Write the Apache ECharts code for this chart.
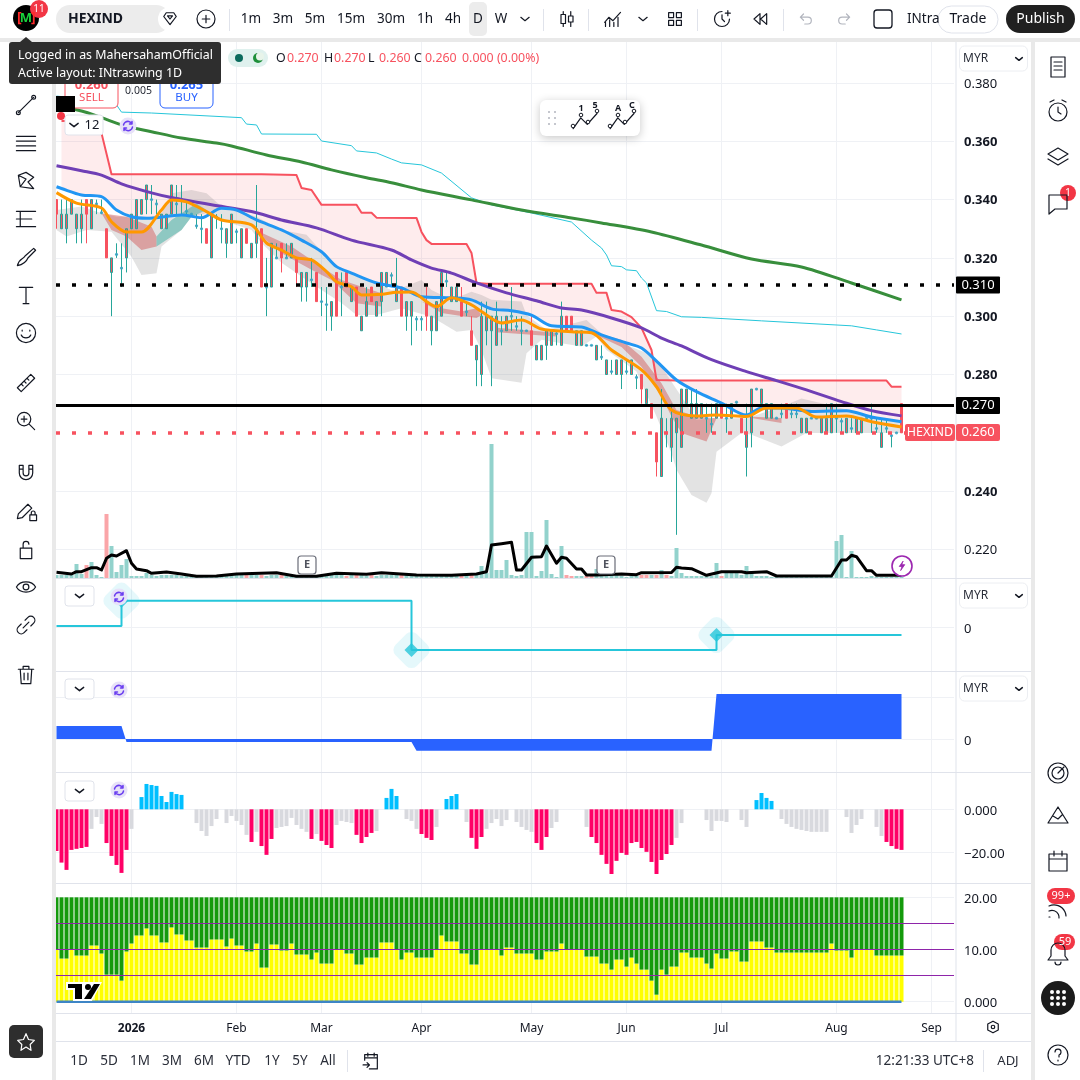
<!DOCTYPE html>
<html><head><meta charset="utf-8">
<style>html,body{margin:0;padding:0;background:#fff}#c{width:1080px;height:1080px}</style>
<script src="https://cdn.jsdelivr.net/npm/echarts@6/dist/echarts.min.js"></script>
</head><body><div id="c"></div>
<script>
const monthBars=[15,36,53,73,95,114,133,156,175];
const monthLabels=['2026','Feb','Mar','Apr','May','Jun','Jul','Aug','Sep'];
const priceTicks=[0.38,0.36,0.34,0.32,0.30,0.28,0.24,0.22];
const boldPriceTicks=[0.36,0.34,0.32,0.30,0.28,0.24];
const priceLevels={dottedBlack:0.3107,solidBlack:0.2695,dottedRed:0.26};
// open, close, low, high
const candles=[[.34,.335,.33,.34],[.33,.335,.33,.34],[.33,.335,.325,.34],[.335,.34,.335,.34],[.33,.335,.325,.335],[.33,.335,.325,.34],[.34,.335,.325,.34],[.33,.34,.33,.34],[.3385,.3385,.335,.34],[.3355,.3355,.335,.34],
[.33,.32,.32,.33],[.315,.32,.30,.32],[.3212,.3212,.32,.325],[.3165,.3165,.31,.325],[.32,.33,.315,.33],[.33,.335,.33,.335],[.33,.34,.33,.34],[.335,.34,.335,.34],[.34,.345,.335,.345],[.34,.34,.335,.345],
[.3385,.3385,.335,.34],[.33,.335,.33,.335],[.33,.335,.33,.335],[.335,.345,.335,.345],[.3385,.3385,.335,.345],[.34,.34,.335,.345],[.336,.336,.335,.34],[.335,.335,.335,.335],[.331,.331,.33,.335],[.33,.33,.325,.335],
[.33,.325,.325,.33],[.32,.335,.32,.335],[.334,.334,.33,.335],[.33,.33,.325,.335],[.325,.33,.32,.33],[.325,.335,.325,.335],[.329,.329,.325,.33],[.32,.33,.32,.33],[.33,.325,.325,.33],[.32,.325,.32,.325],
[.325,.33,.32,.345],[.33,.31,.31,.33],[.31,.31,.30,.32],[.31,.325,.31,.325],[.32,.32,.32,.325],[.325,.32,.315,.325],[.32,.32,.32,.325],[.32,.325,.32,.325],[.32,.315,.31,.32],[.31,.315,.305,.315],
[.31,.315,.305,.315],[.3125,.3125,.31,.32],[.315,.305,.305,.315],[.305,.305,.30,.31],[.304,.304,.295,.31],[.30,.305,.295,.305],[.315,.30,.30,.315],[.31,.31,.30,.315],[.315,.31,.31,.315],[.305,.31,.305,.31],
[.31,.30,.30,.31],[.295,.30,.295,.30],[.30,.305,.30,.31],[.31,.305,.305,.31],[.30,.305,.30,.305],[.305,.315,.30,.315],[.31,.315,.31,.315],[.314,.314,.31,.315],[.305,.31,.305,.32],[.31,.30,.30,.31],
[.30,.305,.295,.305],[.30,.305,.29,.305],[.299,.299,.295,.30],[.299,.299,.295,.30],[.305,.30,.295,.31],[.295,.30,.29,.30],[.295,.305,.295,.305],[.30,.315,.30,.315],[.312,.312,.31,.315],[.305,.31,.305,.31],
[.305,.31,.305,.31],[.305,.30,.30,.31],[.3015,.3015,.30,.305],[.295,.29,.29,.30],[.285,.29,.276,.29],[.28,.30,.276,.305],[.295,.30,.29,.305],[.295,.30,.276,.30],[.29,.30,.29,.305],[.295,.295,.29,.30],
[.295,.30,.295,.30],[.30,.30,.295,.31],[.2965,.2965,.295,.30],[.295,.295,.29,.30],[.295,.295,.295,.295],[.295,.29,.29,.30],[.285,.29,.285,.29],[.285,.29,.285,.29],[.29,.295,.285,.295],[.29,.295,.29,.295],
[.294,.294,.29,.295],[.29,.30,.29,.305],[.30,.295,.295,.30],[.30,.295,.295,.30],[.29,.295,.29,.295],[.29,.295,.29,.295],[.29,.29,.29,.29],[.29,.29,.29,.29],[.285,.29,.285,.29],[.286,.286,.285,.29],
[.28,.285,.28,.285],[.281,.281,.28,.285],[.28,.285,.28,.285],[.28,.285,.275,.285],[.281,.281,.28,.285],[.28,.285,.28,.285],[.279,.279,.275,.28],[.28,.275,.27,.28],[.27,.275,.27,.275],[.27,.265,.265,.27],
[.26,.25,.245,.26],[.245,.265,.245,.275],[.26,.26,.255,.265],[.255,.265,.25,.27],[.26,.265,.225,.265],[.255,.275,.255,.275],[.27,.275,.27,.275],[.265,.27,.265,.275],[.265,.27,.265,.275],[.265,.27,.265,.27],
[.265,.265,.26,.27],[.263,.263,.26,.27],[.265,.27,.265,.27],[.27,.265,.265,.27],[.265,.265,.26,.27],[.265,.27,.265,.27],[.2705,.2705,.27,.2705],[.265,.26,.26,.265],[.255,.26,.245,.27],[.26,.275,.255,.275],
[.275,.275,.275,.275],[.27,.275,.27,.275],[.265,.27,.265,.27],[.265,.27,.265,.27],[.265,.265,.265,.265],[.2665,.2665,.265,.27],[.27,.265,.265,.27],[.2665,.2665,.265,.27],[.2665,.2665,.265,.27],[.26,.265,.26,.265],
[.26,.265,.26,.265],[.265,.265,.265,.265],[.265,.265,.265,.265],[.26,.265,.26,.265],[.26,.265,.26,.27],[.26,.27,.26,.27],[.265,.265,.26,.27],[.264,.264,.26,.265],[.26,.265,.26,.265],[.2615,.2615,.26,.265],
[.26,.265,.26,.265],[.26,.265,.26,.265],[.265,.265,.265,.265],[.265,.265,.26,.27],[.2615,.2615,.26,.265],[.255,.26,.255,.265],[.2615,.2615,.26,.265],[.259,.259,.255,.26],[.26,.26,.26,.26],[.27,.26,.26,.27]];
// lines: [bar, price]
const maGreen=[[0,.3719],[5,.3704],[9,.3681],[13,.3656],[19,.3633],[25,.3611],[32,.3594],[35,.3584],[42,.3553],[49,.3529],[55,.3502],[62,.3475],[67,.3458],[73,.3433],[83,.3399],[93,.3364],[103,.3337],[109,.3320],[119,.3289],[129,.3244],[139,.3196],[149,.3169],[159,.3114],[169,.3056]];
const thinCyan=[[0,.3755],[8,.3742],[12,.3725],[13,.3700],[19,.3697],[37,.3681],[38,.3659],[40,.3656],[41,.3625],[52,.3624],[53,.3601],[59,.3585],[60,.3567],[64,.3560],[67,.3539],[69,.3526],[73,.3519],[77,.3491],[83,.3406],[87,.3382],[95,.3354],[103,.3323],[107,.3261],[109,.3234],[110,.3210],[111,.3173],[113,.3170],[114,.3159],[116,.3156],[117,.3131],[118,.3114],[120,.3019],[122,.3016],[125,.2998],[129,.2996],[141,.2984],[159,.2967],[164,.2953],[169,.2939]];
const upperRed=[[1,.3670],[8,.3670],[9,.3628],[11,.3487],[41,.3487],[48,.3484],[49,.3440],[51,.3433],[53,.3382],[60,.3382],[61,.3355],[63,.3355],[64,.3338],[72,.3337],[73,.3289],[74,.3261],[75,.3248],[82,.3248],[83,.3217],[84,.3114],[86,.3111],[107,.3111],[108,.3080],[110,.3080],[111,.3021],[113,.3016],[115,.2997],[117,.2960],[119,.2884],[120,.2781],[124,.2779],[166,.2779],[167,.2758],[169,.2758]];
const maPurple=[[0,.3516],[5,.3499],[9,.3484],[13,.3454],[19,.3423],[23,.3407],[31,.3382],[39,.3359],[45,.3330],[52,.3303],[59,.3261],[67,.3227],[71,.3193],[75,.3165],[79,.3148],[84,.3114],[90,.3080],[96,.3053],[101,.3028],[105,.3021],[111,.2994],[117,.2960],[121,.2925],[125,.2898],[131,.2851],[138,.2810],[144,.2779],[150,.2747],[157,.2707],[163,.2676],[169,.2658]];
const maBlue=[[0,.3444],[1,.3438],[5,.3416],[9,.3410],[12,.3364],[15,.3341],[18,.3336],[25,.3347],[29,.3338],[33,.3370],[36,.3364],[40,.3330],[45,.3296],[49,.3261],[53,.3221],[56,.3170],[59,.3148],[64,.3114],[69,.3097],[73,.3067],[79,.3063],[83,.3056],[87,.3025],[91,.3019],[95,.3004],[99,.2967],[105,.2963],[109,.2936],[114,.2908],[117,.2891],[120,.2846],[124,.2781],[128,.2741],[133,.2702],[138,.2661],[141,.2685],[145,.2685],[151,.2673],[158,.2676],[163,.2654],[169,.2638]];
const maOrange=[[0,.3424],[4,.3388],[9,.3371],[11,.3324],[14,.3289],[17,.3289],[21,.3364],[23,.3399],[26,.3392],[30,.3359],[33,.3330],[39,.3313],[42,.3251],[45,.3227],[48,.3200],[51,.3193],[54,.3153],[56,.3118],[59,.3101],[61,.3073],[65,.3075],[68,.3082],[71,.3083],[74,.3050],[76,.3033],[79,.3063],[83,.3039],[85,.3016],[89,.2977],[93,.2987],[97,.2956],[103,.2947],[107,.2943],[111,.2884],[117,.2816],[120,.2758],[123,.2678],[128,.2658],[132,.2661],[138,.2656],[142,.2685],[148,.2685],[152,.2654],[158,.2658],[163,.2638],[169,.2620]];
const greyCloud=[[0,.3364],[5,.3376],[9,.3353],[12,.3341],[19,.3341],[21,.3353],[23,.3422],[27,.3433],[30,.3422],[33,.3376],[40,.3341],[45,.3296],[50,.3279],[54,.3204],[57,.3159],[67,.3090],[69,.3097],[73,.3124],[75,.3090],[79,.3056],[83,.3084],[85,.3073],[87,.3056],[93,.3050],[94,.3004],[98,.2953],[106,.2987],[109,.2941],[113,.2908],[118,.2874],[121,.2827],[125,.2724],[128,.2644],[132,.2650],[138,.2650],[145,.2689],[149,.2718],[153,.2701],[169,.2633],
[169,.2599],[150,.2599],[145,.2553],[139,.2593],[137,.2599],[132,.2535],[131,.2393],[130,.2360],[127,.2387],[124,.2473],[123,.2530],[120,.2656],[116,.2810],[110,.2884],[108,.2930],[105,.2896],[101,.2907],[97,.2919],[94,.2873],[93,.2772],[87,.2787],[85,.2884],[83,.2953],[80,.2947],[75,.2998],[69,.3027],[64,.3004],[60,.3004],[57,.3045],[54,.3079],[50,.3124],[45,.3183],[41,.3251],[39,.3296],[33,.3330],[30,.3353],[27,.3341],[25,.3296],[21,.3239],[20,.3147],[17,.3141],[15,.3204],[11,.3290],[6,.3296],[2,.3273],[0,.3296]];
const redBands=[
 [[9,.3353],[14,.3341],[19,.3307],[20,.3273],[20,.3239],[17,.3227],[14,.3273],[11,.3296]],
 [[41,.3286],[47,.3239],[53,.3170],[57,.3124],[65,.3079],[65,.3033],[60,.3044],[55,.3124],[51,.3159],[45,.3216],[41,.3273]],
 [[73,.3050],[77,.3027],[81,.3016],[84,.3027],[85,.3004],[84,.2994],[81,.3001],[77,.3011]],
 [[88,.2960],[100,.2943],[100,.2930],[88,.2945]],
 [[107,.2947],[113,.2919],[117,.2861],[121,.2770],[124,.2678],[128,.2656],[132,.2650],[130,.2570],[125,.2599],[123,.2656],[121,.2725],[117,.2827],[113,.2894],[108,.2935]],
 [[138,.2656],[145,.2651],[145,.2634],[139,.2651]]];
const tealBands=[[[20,.3273],[23,.3330],[25,.3353],[28,.3387],[30,.3364],[27,.3341],[25,.3296],[20,.3239]]];
const volumes=[3,3,3,3,14,4,13,16,3,1,64,32,6,13,19,2,2,2,5,3,2,3,3,3,3,2,2,2,3,2,2,2,2,2,2,3,3,3,3,3,3,3,2,3,3,3,2,2,2,2,2,2,2,2,3,3,3,3,2,3,3,3,2,3,2,3,3,3,3,3,3,3,3,2,3,3,3,3,3,3,3,3,3,3,3,12,5,134,8,8,18,3,2,3,46,46,2,7,58,4,1,32,3,2,2,2,2,2,9,3,3,3,3,2,1,2,2,3,3,3,3,8,3,2,30,5,2,2,2,2,2,2,15,2,5,5,5,3,12,7,2,2,2,1,1,1,1,2,1,1,1,1,1,1,2,1,37,43,1,27,1,1,1,2,1,1,1,1,1,1];
const volumesDown=[6,10,38,41,45,58,60,63,69,81,83,102,103,106,107,117,118,120,122,133];
const volumeAverage=[[0,5.7],[3,4],[4,6.3],[5,6.3],[7,10.3],[8,10.3],[9,8],[10,19.7],[11,23],[12,22],[14,27.3],[15,14.7],[16,9],[18,7.3],[19,4.7],[22,6],[25,4],[28,1.7],[32,2],[36,4],[44,5.3],[48,1.7],[52,1.7],[56,4.7],[62,3.7],[65,5.3],[72,3],[79,2.7],[84,4],[86,6.3],[87,33],[89,34.3],[91,35.7],[92,8],[93,8],[95,20.7],[97,21.3],[98,32],[100,14.7],[101,20.7],[102,19.7],[104,9],[105,9],[106,3],[108,3],[113,4],[116,3.3],[117,5.3],[123,5.5],[124,10.7],[125,10],[127,9.3],[130,2.7],[133,6.3],[137,6.3],[138,5.3],[142,6.3],[144,2],[155,2],[157,18],[158,18],[159,22.7],[160,21.3],[162,7.3],[163,7.3],[164,2.7],[169,2.7]];
const signalStarts=[0,13,71,132], signalLevels=[1.3,26.6,-22.7,-7.7];
const flowStarts=[0,14,72,132], flowLevels=[13,-3,-11.7,45];
const histValues=[-19.4,-24.8,-28.2,-18.9,-18.4,-18,-17.5,-9.1,-3.6,-6.8,-15.7,-21.7,-25.9,-29.6,-18.9,-9.1,0,5.7,11.8,11.3,10.9,6.2,3.4,8.1,7.1,6.7,0,0,-6.4,-10.1,-12.4,-7.8,-4.5,0,-6.4,-3.1,-5.4,-7.3,-11.9,-15.2,-10.5,-17.1,-21.2,-13.8,-8.7,-8.2,-7.8,-4,-7.3,-9.1,-10.5,-13.8,-11.5,-14.7,-16.6,-18,-7.3,-5.4,-5.9,-6.4,-11.9,-15.7,-12.9,-11,-10.1,0,5.3,9.5,6.2,0,-4.5,-5.4,-9.1,-11.5,-13.3,-14.3,-8.2,0,4.8,6.2,7.1,0,-5.9,-13.3,-18.4,-12.9,-9.1,-6.4,-4.5,-7.8,-5,0,-5.9,-8.2,-9.6,-10.5,-15.7,-18.9,-12.9,-8.7,-5.9,0,0,0,0,0,-8.2,-12.9,-15.7,-21.2,-25.4,-30.1,-24,-20.3,-21.2,-15.7,-15.2,-18,-19.8,-24.5,-30.1,-23.6,-20.8,-16.6,-13.3,-6.4,0,0,0,0,-5,-10.1,-5.4,-5.4,-5.9,0,0,-5,-8.2,0,4.3,7.6,5.3,3.9,0,-4.5,-6.8,-8.2,-9.1,-9.6,-10.1,-10.5,-10.5,-10.5,-10.5,0,0,0,-3.6,-11,-7.3,-4.5,0,0,-8.2,-12.4,-15.2,-17.1,-18.4,-18.9];
const histStrongRuns=[[0,6],[10,14],[39,39],[41,43],[51,51],[53,55],[60,63],[73,75],[83,85],[96,98],[107,123],[166,169]];
const yellowValues=[10,8.27,8.27,10,8.85,8.85,8.85,10.77,10.77,9.23,5.19,5.19,5.19,4.04,9.62,11.15,12.69,12.69,14.04,12.69,12.69,11.35,11.35,14.23,12.88,12.88,11.73,11.73,10.38,10.38,10.38,11.92,11.92,11.92,10.58,12.1,10.77,10.77,9.62,9.62,11.15,6.54,6.54,10.96,10.96,9.81,9.81,11.15,9.04,9.04,9.04,8.08,9.42,7.31,7.31,7.31,10,10,9.23,9.23,7.12,7.12,8.46,8.46,8.46,11.35,11.35,11.35,10,8.08,9.42,9.42,8.46,8.46,8.46,8.46,10,12.69,11.54,11.54,11.54,9.23,9.23,7.12,7.12,10,10,10,10,8.85,10.38,10.38,9.23,9.23,9.23,9.23,8.08,8.08,9.62,9.62,9.62,11.15,10,10,10,10,8.65,8.65,8.65,7.31,7.31,6.15,8.08,8.08,6.73,8.46,7.31,6.15,6.15,4.04,1.35,6.15,5.19,6.73,6.73,9.42,9.42,8.46,8.46,8.46,7.31,6.35,9.23,8.27,8.27,9.62,9.62,7.69,7.69,11.54,11.54,11.54,10.38,10.38,9.42,9.42,9.42,9.42,9.42,9.42,9.42,9.42,9.42,9.42,9.42,11.15,9.81,9.81,9.81,8.46,10,10,10,10,8.85,8.85,8.85,8.85,8.85,8.85];
const greenCap=20;
const oscLevels=[15,10,5];
const oscBase=[[0,0],[169,0]];

const FONT='"Noto Sans",sans-serif', INK='#131722', RED='#f7525f', TEAL='#26a69a', GRID='#eff1f5', SEP='#e0e3eb', BAR='#e9e9e9';
const N=180;
const cats=Array.from({length:N},()=>'');
monthBars.forEach((b,i)=>cats[b]=monthLabels[i]);
function isMonthFn(i){return monthBars.includes(i);}
const LEFT=54,WIDTH=900;
const panes=[[42,536],[579,92],[672,100],[773,110],[884,129]];
const grid=panes.map(p=>({left:LEFT,width:WIDTH,top:p[0],height:p[1],containLabel:false}));
const xAxis=panes.map((p,i)=>({type:'category',gridIndex:i,data:cats,boundaryGap:true,
  axisLine:{show:false},
  axisTick:{show:false,alignWithLabel:true,interval:isMonthFn},
  splitLine:{show:true,alignWithLabel:true,interval:isMonthFn,lineStyle:{color:GRID,width:1}},
  axisLabel:i===4?{show:true,interval:isMonthFn,margin:10,color:INK,fontFamily:FONT,fontSize:12,
     formatter:v=>v==='2026'?'{b|2026}':v,rich:{b:{fontWeight:700,color:INK,fontFamily:FONT,fontSize:12}}}:{show:false}}));
function yA(i,min,max,vals,fmt,labelVals,padTop){
  return {type:'value',gridIndex:i,position:'right',min,max,scale:false,
   axisLine:{show:false},axisTick:{show:false,customValues:vals},
   splitLine:{show:true,lineStyle:{color:GRID,width:1}},
   axisLabel:{show:true,customValues:labelVals||vals,margin:10,color:INK,fontFamily:FONT,fontSize:13,formatter:fmt,padding:[padTop,0,0,0],
     rich:{b:{fontWeight:700,fontFamily:FONT,fontSize:13,color:INK}}}};
}
const yAxis=[
 yA(0,0.21019,0.39406,priceTicks,v=>{const s=v.toFixed(3);return boldPriceTicks.some(b=>Math.abs(b-v)<1e-6)?'{b|'+s+'}':s;},null,2),
 yA(1,-43.7,48.3,[0],v=>String(v),null,3),
 yA(2,-33,67,[0,42],v=>String(v),[0],4),
 yA(3,-34.3,16.9,[0,-20],v=>v===0?'0.000':'\u221220.00',null,4),
 yA(4,-2.16,22.55,[0,10,20],v=>v.toFixed(v===0?3:2),null,4),
 {type:'value',gridIndex:0,min:0,max:536,show:false,splitLine:{show:false}}
];
const ax=i=>({xAxisIndex:i,yAxisIndex:i});
const polySeries=(pts,fill)=>({type:'custom',...ax(0),clip:true,silent:true,z:1,data:[[pts[0][0],pts[0][1]]],
  renderItem:(p,api)=>({type:'polygon',shape:{points:pts.map(q=>api.coord(q))},style:{fill}})});
const lineS=(d,color,w,z,smooth)=>({type:'line',...ax(0),data:d,showSymbol:false,symbol:'none',silent:true,z:z||4,smooth:smooth||false,
  lineStyle:{color,width:w,join:'round'},itemStyle:{color}});
const levelS=(v,color,w,type,offset)=>({type:'line',...ax(0),data:[],silent:true,z:6,
  markLine:{silent:true,symbol:'none',precision:4,animation:false,label:{show:false},data:[{yAxis:v}],lineStyle:{color,width:w,type,dashOffset:offset||0,opacity:1},z:6}});
const runs=(starts,levels)=>{const o=[];for(let k=0;k<170;k++){let j=0;starts.forEach((s,i)=>{if(k>=s)j=i});o.push(levels[j]);}return o;};
const strong=k=>histStrongRuns.some(r=>k>=r[0]&&k<=r[1]);
const series=[
 polySeries(upperRed.concat(maBlue.slice().reverse().filter(p=>p[0]>=1)),'rgba(247,82,95,0.11)'),
 polySeries(greyCloud,'rgba(125,125,125,0.21)'),
 ...redBands.map(b=>polySeries(b,'rgba(205,70,70,0.42)')),
 ...tealBands.map(b=>polySeries(b,'rgba(38,166,154,0.45)')),
 {type:'bar',xAxisIndex:0,yAxisIndex:5,barWidth:4,silent:true,z:2,
   data:volumes.map((v,k)=>({value:v,itemStyle:{color:volumesDown.includes(k)?'#faa5a8':'#92d2cc'}}))},
 {type:'candlestick',...ax(0),barWidth:3,silent:true,z:3,
   itemStyle:{color:RED,color0:RED,borderColor:TEAL,borderColor0:RED,borderColorDoji:TEAL,borderWidth:1},
   data:candles.map(c=>c[0]===c[1]?{value:c,itemStyle:{borderColor:TEAL,borderColor0:TEAL,borderColorDoji:TEAL}}:c)},
 {type:'scatter',...ax(0),symbol:'circle',symbolSize:3.2,silent:true,z:3,itemStyle:{color:'#3fa5c9'},
   data:candles.map((c,k)=>c[0]===c[1]?[k,c[0]]:null).filter(Boolean)},
 lineS(thinCyan,'#26c6da',1,4),
 lineS(maGreen,'#388e3c',3,4,0.3),
 lineS(upperRed,RED,2,4),
 lineS(maPurple,'#6f3fb5',3,4,0.3),
 lineS(maBlue,'#2196f3',3,5,0.3),
 lineS(maOrange,'#ff9800',3,5,0.3),
 levelS(priceLevels.dottedBlack,'#000',3.5,[4,12],14),
 levelS(priceLevels.solidBlack,'#000',3,'solid'),
 levelS(priceLevels.dottedRed,RED,3.5,[4,12],14),
 {type:'line',xAxisIndex:0,yAxisIndex:5,data:volumeAverage,showSymbol:false,silent:true,z:6,lineStyle:{color:'#000',width:3,join:'round'}},
 {type:'line',...ax(1),step:'end',data:runs(signalStarts,signalLevels),showSymbol:false,silent:true,lineStyle:{color:'#26c6da',width:2}},
 {type:'scatter',...ax(1),symbol:'roundRect',symbolRotate:45,symbolSize:30,silent:true,itemStyle:{color:'rgba(38,198,218,0.15)'},
   data:signalStarts.slice(1).map((s,i)=>[s,signalLevels[i+1]])},
 {type:'scatter',...ax(1),symbol:'diamond',symbolSize:14,silent:true,itemStyle:{color:'#26c6da'},
   data:signalStarts.slice(1).map((s,i)=>[s,signalLevels[i+1]])},
 {type:'line',...ax(2),data:runs(flowStarts,flowLevels),showSymbol:false,silent:true,lineStyle:{width:0,color:'#2962ff'},areaStyle:{color:'#2962ff',opacity:1}},
 {type:'bar',...ax(3),barWidth:4,silent:true,
   data:histValues.map((v,k)=>v===0?null:{value:v,itemStyle:{color:v>0?'#00bfff':strong(k)?'#ff0066':'#d8d9de'}})},
 {type:'bar',...ax(4),barWidth:4,stack:'o',silent:true,itemStyle:{color:'#ffff00'},data:yellowValues},
 {type:'bar',...ax(4),barWidth:4,stack:'o',silent:true,itemStyle:{color:'#149a0c'},data:yellowValues.map(v=>+(greenCap-v).toFixed(2)),
   markLine:{silent:true,symbol:'none',animation:false,label:{show:false},z:5,
     data:oscLevels.map(v=>({yAxis:v,lineStyle:{color:'#8e24aa',width:1,type:'solid'}}))}},
 {type:'line',...ax(4),data:oscBase,showSymbol:false,silent:true,z:6,lineStyle:{color:'#3d85c6',width:2.5}}
];

// ---- interface furniture around the chart ----
const g=[];let Z=100,iconN=0;
const R=(x,y,w,h,fill,o={})=>g.push({type:'rect',silent:true,z:o.z||Z,shape:{x,y,width:w,height:h,r:o.r||0},style:{fill,stroke:o.stroke||null,lineWidth:o.lw||1,shadowBlur:o.blur||0,shadowColor:o.sc||'transparent',shadowOffsetY:o.blur?2:0}});
const C=(cx,cy,r,fill,o={})=>g.push({type:'circle',silent:true,z:o.z||Z,shape:{cx,cy,r},style:{fill,stroke:o.stroke||null,lineWidth:o.lw||1}});
const T=(text,x,y,o={})=>g.push({type:'text',silent:true,z:o.z||Z+1,x,y:y+1,style:{text,fill:o.c||INK,font:(o.w||400)+' '+(o.s||13)+'px '+FONT,textAlign:o.a||'left',textVerticalAlign:'middle'}});
const I=(cx,cy,size,d,o={})=>{const name='tvIcon'+(iconN++);
  echarts.graphic.registerShape(name,echarts.graphic.extendPath(d,{}));
  const s=size/24;
  g.push({type:name,silent:true,z:o.z||Z+1,x:cx-size/2,y:cy-size/2,scaleX:s,scaleY:s,
    style:{fill:o.fill||'none',stroke:o.stroke===undefined?INK:o.stroke,lineWidth:(o.lw||1.2)/s,lineJoin:'round',lineCap:'round'}});};
const P=(pts,fill,z)=>g.push({type:'polygon',silent:true,z:z||Z,shape:{points:pts},style:{fill}});

// surfaces
R(0,0,1080,38,'#fff');R(0,38,1080,4,BAR);
R(0,42,52,1038,'#fff');R(52,42,4,1038,BAR);
R(1035,42,45,1038,'#fff');R(1031,42,4,1038,BAR);
R(56,1041,975,39,'#fff');R(56,1013,975,1,SEP);R(56,1041,975,1,SEP);
R(955.5,42,1,999,SEP);
[578,671,772,883].forEach(y=>R(56,y,975,1,SEP));

// top bar
C(26,18,13,'#000');T('[',17,17,{c:'#ff2a2a',w:700,s:14});T('M',26,17,{c:'#19d13b',w:700,s:13,a:'center'});T(']',31,17,{c:'#ff2a2a',w:700,s:14});C(39,9,9,'#f23645');T('11',39,8,{c:'#fff',s:10,a:'center'});
R(56,5,114,28,'#ececec',{r:14});T('HEXIND',68,18,{w:700,s:14});C(170,19,12,'#fff');
I(170,19,15,'M2 8L6 2H18L22 8L12 21Z M8 7H16L12 12Z');C(206,19,9,'#fff',{stroke:INK,lw:1.2});I(206,19,9,'M12 2V22M2 12H22');
R(229,9,1,22,SEP);
[['1m',251],['3m',283],['5m',315],['15m',351],['30m',391],['1h',425],['4h',453]].forEach(t=>T(t[0],t[1],18,{a:'center',s:13.5}));
R(469,2,18,34,'#ececec',{r:5});T('D',478,18,{a:'center',s:13.5});T('W',501,18,{a:'center',s:13.5});
I(525,19,10,'M2 8L12 16L22 8');R(543,9,1,22,SEP);
I(567,19,18,'M7 2V6M7 18V22M4 6H10V18H4ZM17 2V8M17 16V22M14 8H20V16H14Z');R(588,9,1,22,SEP);
I(613,19,20,'M2 16L7 10L12 14L21 4M3 21V16M8 21V13M13 21V16M18 21V10');I(643,19,10,'M2 8L12 16L22 8');
I(675,19,17,'M3 3H10V10H3ZM14 3H21V10H14ZM3 14H10V21H3ZM14 14H21V21H14Z');R(697,9,1,22,SEP);
I(722,19,20,'M12 3A9 9 0 1 0 21 12M12 7V12L15 15M19 2V8M16 5H22');
I(760,19,16,'M12 4L3 12L12 20ZM22 4L13 12L22 20Z');R(783,9,1,22,SEP);
I(806,19,15,'M8 4L3 9L8 14M3 9H15A5 5 0 0 1 15 20H10',{stroke:'#b2b5be'});I(844,19,15,'M16 4L21 9L16 14M21 9H9A5 5 0 0 0 9 20H14',{stroke:'#b2b5be'});
R(874,10,18,18,'#fff',{r:3,stroke:INK,lw:1.3});T('INtra',907,18,{s:13.5});
R(938,6,60,27,'#fff',{r:13.5,stroke:SEP});T('Trade',968,18,{a:'center',s:14});
R(1006,5,69,28,'#202020',{r:14});T('Publish',1040.5,18,{a:'center',c:'#fff',s:14});

// legend row
R(228,49,40,18,'#dff1ee',{r:9});C(239,58,4,'#0b6b5d');C(258,58,5,'#1d8f3a');C(260,56.5,4,'#e8f4ea');
[['O',276,INK],['0.270',287,RED],['H',324,INK],['0.270',334,RED],['L',368,INK],['0.260',379,RED],['C',414,INK],['0.260',425,RED],['0.000 (0.00%)',462,RED]].forEach(t=>T(t[0],t[1],57.5,{c:t[2],s:12.4}));

// order panel
R(65,72,53,36,'#fff',{r:5,stroke:RED});T('0.260',91.5,84,{a:'center',c:RED,w:700,s:13});T('SELL',91.5,97,{a:'center',c:RED,s:11.5});
T('0.005',138.5,90,{a:'center',s:10.5,c:'#2a2e39'});
R(160,72,53,36,'#fff',{r:5,stroke:'#2962ff'});T('0.265',186.5,84,{a:'center',c:'#2962ff',w:700,s:13});T('BUY',186.5,97,{a:'center',c:'#2962ff',s:11.5});
R(56,96,19,16,'#000');C(61,116,4,'#f23645');
const menuBox=(x,y,label)=>{R(x,y,label?38:29,20,'#fff',{r:3,stroke:SEP});I(label?x+9:x+14.5,y+10,10,'M2 8L12 16L22 8',{lw:1.4});if(label)T(label,x+27,y+9,{a:'center',s:13});};
menuBox(65,115,'12');
const sync=(x,y)=>{C(x,y,8.5,'#e7e2f8');I(x,y,12,'M3 10A9 9 0 0 1 20 8M21 14A9 9 0 0 1 4 16M20 3V8H15M4 21V16H9',{stroke:'#6a3df0',lw:1.5});};
sync(128,126);
[[65,586],[65,679],[65,781]].forEach(b=>menuBox(b[0],b[1]));
sync(119,597);sync(119,690);sync(119,790);

// drawing template float
R(540,100,100,36,'#fff',{r:6,blur:10,sc:'rgba(0,0,0,0.22)'});
[[549,112],[555,112],[549,118],[555,118],[549,124],[555,124]].forEach(p=>C(p[0],p[1],1,'#b2b5be'));
I(584,120,26,'M2 20L9 10L15 16L24 6',{lw:1.2});I(621,120,26,'M2 20L9 10L15 16L24 6',{lw:1.2});
[[573,126],[581,115],[588,122],[597,111],[610,126],[618,115],[625,122],[634,111]].forEach(p=>C(p[0],p[1],1.8,'#fff',{stroke:INK,z:Z+2}));
T('1',581,107,{s:9,w:700,a:'center'});T('5',595,104,{s:9,w:700,a:'center'});T('A',618,107,{s:9,w:700,a:'center'});T('C',632,104,{s:9,w:700,a:'center'});

// tooltip on top
P([[20,42],[26,37],[32,42]],'#2e2e2e',Z+2);
R(9,42,212,42,'#2e2e2e',{r:3,z:Z+2});
T('Logged in as MahersahamOfficial',18,54,{c:'#fff',s:12.4,z:Z+3});T('Active layout: INtraswing 1D',18,72,{c:'#fff',s:12.4,z:Z+3});

// price axis furniture
const myr=(y)=>{R(959.5,y,68,25,'#fff',{r:5,stroke:'#eceef2'});T('MYR',963,y+11.5,{s:12,c:'#2a2e39'});I(1019,y+13,8,'M2 8L12 16L22 8',{lw:1.5});};
myr(46);myr(583);myr(676);
R(956,276.5,44,17,'#000',{r:1});T('0.310',978,284,{a:'center',c:'#fff',s:13});
R(956,397,44,17,'#000',{r:1});T('0.270',978,404.5,{a:'center',c:'#fff',s:13});
R(905,424,50,17,RED,{r:2});T('HEXIND',930,431.5,{a:'center',c:'#fff',s:12.5});
R(956,424,44,17,RED,{r:2});T('0.260',978,431.5,{a:'center',c:'#fff',s:13});

// event marks
[307,606].forEach(x=>{R(x-9,556,18,18,'#fff',{r:3,stroke:'#6a6d78',lw:1.2});T('E',x,564,{a:'center',s:11,w:700,c:'#50535e'});});
C(902,566,10,'#fff',{stroke:'#9c27b0',lw:1.6});I(902,566,11,'M14 2L6 13H12L9 22L18 9H12Z',{stroke:'#9c27b0',fill:'#9c27b0',lw:.8});

// watermark logo
P([[66,982],[84,982],[84,1001],[73,1001],[73,990],[66,990]],'#fff');P([[84,982],[102,982],[92,1001],[82,1001]],'#fff');
P([[68,984],[82,984],[82,999],[75,999],[75,988],[68,988]],'#000',Z+1);C(88,987,3,'#000',{z:Z+1});P([[94,984],[100,984],[91,999],[84,999]],'#000',Z+1);

// left toolbar
const L=[[105,'M4 20L20 4M2 20A2 2 0 1 0 6 20A2 2 0 1 0 2 20M18 4A2 2 0 1 0 22 4A2 2 0 1 0 18 4'],[143,'M2 5H22M2 10H22M2 15H22M2 20H22'],[181,'M4 6L12 3L20 8L14 13L20 20L6 18L12 10ZM4 6L6 18'],[219,'M2 4H22M6 4V20M2 12H18M2 20H22'],[257,'M3 21C5 13 9 15 11 11L20 3L22 5L14 13C12 18 8 20 3 21Z'],[295,'M5 4H19M12 4V21M9 21H15'],[333,'M2 12A10 10 0 1 0 22 12A10 10 0 1 0 2 12M7 14C9 18 15 18 17 14M8 9V10M16 9V10'],[383,'M3 17L17 3L21 7L7 21ZM7 13L9 15M10 10L12 12M13 7L15 9'],[421,'M3 10A7 7 0 1 0 17 10A7 7 0 1 0 3 10M15 15L21 21M10 7V13M7 10H13'],[473,'M5 4V12A7 7 0 0 0 19 12V4H15V12A3 3 0 0 1 9 12V4ZM5 8H9M15 8H19'],[511,'M3 20L4 15L14 5L18 9L8 19ZM16 16H23V22H16ZM17.5 16V14A2 2 0 0 1 21.5 14V16'],[549,'M6 11H18V22H6ZM9 11V7A3 3 0 0 1 15 7'],[587,'M2 12C6 5 18 5 22 12C18 19 6 19 2 12ZM9 12A3 3 0 1 0 15 12A3 3 0 1 0 9 12'],[625,'M9 15L15 9M7 11L4 14A4 4 0 0 0 10 20L13 17M11 7L14 4A4 4 0 0 1 20 10L17 13'],[675,'M4 6H20M9 6V3H15V6M6 6L7 21H17L18 6M10 10V17M14 10V17']];
L.forEach(i=>I(26,i[0],23,i[1]));
R(9,1025,34,33,'#2e2e2e',{r:5});I(26,1042,20,'M12 2L15 9L22 10L17 15L18 22L12 18L6 22L7 15L2 10L9 9Z',{stroke:'#fff'});

// right toolbar
const RB=[[67,'M5 2H19V22H5ZM8 7H16M8 11H16M8 15H16'],[111,'M3 13A9 9 0 1 0 21 13A9 9 0 1 0 3 13M12 8V13L15 15M4 3L8 1M20 3L16 1'],[157,'M12 3L22 9L12 15L2 9ZM2 14L12 20L22 14'],[204,'M3 3H21V17H9L3 22Z'],[773,'M2 12A10 10 0 1 0 22 12A10 10 0 1 0 2 12M6 12A6 6 0 1 0 18 12A6 6 0 1 0 6 12M12 12L18 6'],[815,'M2 20L12 4L22 20ZM7 13L12 16L16 12'],[861,'M3 5H21V22H3ZM3 10H21M8 2V7M16 2V7'],[908,'M3 10A12 12 0 0 1 20 20M3 15A7 7 0 0 1 13 22M3 21H4'],[953,'M12 2A7 7 0 0 0 5 9V15L2 19H22L19 15V9A7 7 0 0 0 12 2ZM9 21A3 3 0 0 0 15 21'],[1055,'M2 12A10 10 0 1 0 22 12A10 10 0 1 0 2 12M9 9A3 3 0 1 1 13 12V14M12 17V18']];
RB.forEach(i=>I(1058,i[0],24,i[1]));
C(1068,193,8,'#f23645');T('1',1068,192,{c:'#fff',s:10.5,a:'center'});
R(1047,888,28,16,'#f23645',{r:8});T('99+',1061,895,{c:'#fff',s:11,a:'center'});
R(1054,934,21,16,'#f23645',{r:8});T('59',1065,941,{c:'#fff',s:11,a:'center'});
C(1058,998,17,'#1b1b1b');[-6,0,6].forEach(dy=>[-6,0,6].forEach(dx=>C(1058+dx,998+dy,2,'#fff',{z:Z+1})));

// bottom bar
[['1D',79],['5D',109],['1M',140],['3M',172],['6M',204],['YTD',238],['1Y',272],['5Y',300],['All',328]].forEach(t=>T(t[0],t[1],1060,{a:'center',s:13.5,c:'#2a2e39'}));
R(347,1050,1,22,SEP);I(371,1061,19,'M4 11V4H20V22H10M4 8H20M8 2V6M16 2V6M2 17H10M7 14L10 17L7 20');
T('12:21:33 UTC+8',974,1060,{a:'right',s:13.5,c:'#2a2e39'});R(983,1050,1,22,SEP);T('ADJ',1008,1060,{a:'center',s:13,c:'#2a2e39'});
I(993,1027,14,'M12 2L21 7V17L12 22L3 17V7ZM9 12A3 3 0 1 0 15 12A3 3 0 1 0 9 12',{lw:1.2});

const chart=echarts.init(document.getElementById('c'),null,{renderer:'canvas',width:1080,height:1080});
chart.setOption({animation:false,backgroundColor:'#fff',textStyle:{fontFamily:FONT},grid,xAxis,yAxis,series,graphic:{elements:g}});
</script></body></html>
